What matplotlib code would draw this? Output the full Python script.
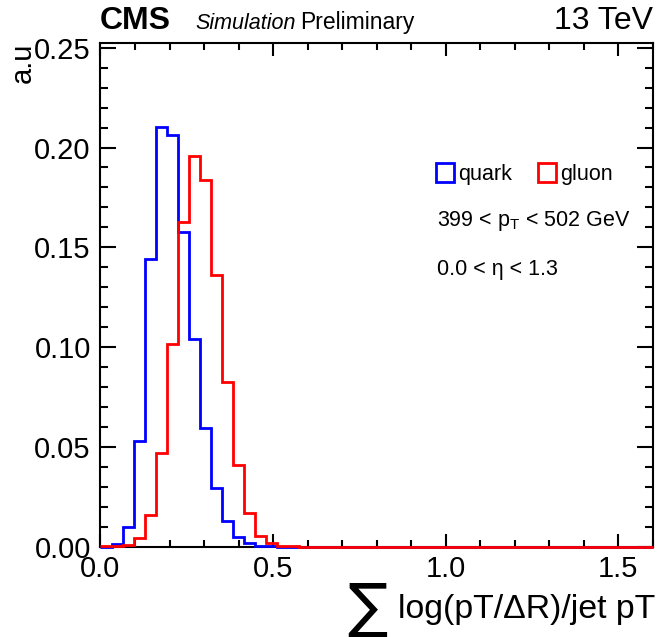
import numpy as np
import matplotlib
matplotlib.use("Agg")
import matplotlib.pyplot as plt
from matplotlib.patches import Patch
from matplotlib.ticker import MultipleLocator, FormatStrFormatter

plt.rcParams['font.family'] = ['Liberation Sans', 'DejaVu Sans']
plt.rcParams['mathtext.fontset'] = 'custom'
plt.rcParams['mathtext.rm'] = 'Liberation Sans'
plt.rcParams['mathtext.it'] = 'Liberation Sans:italic'

# 50 bins between 0 and 1.6
x_lo, x_hi, n_bins = 0.0, 1.6, 50
quark = [0.0, 0.0011, 0.0099, 0.0529, 0.1440, 0.2104, 0.2063, 0.1575, 0.1040, 0.0592,
         0.0292, 0.0129, 0.0049, 0.0016, 0.0004, 0.0001, 0.0, 0.0, 0.0, 0.0,
         0.0, 0.0, 0.0, 0.0, 0.0, 0.0, 0.0, 0.0, 0.0, 0.0,
         0.0, 0.0, 0.0, 0.0, 0.0, 0.0, 0.0, 0.0, 0.0, 0.0,
         0.0, 0.0, 0.0, 0.0, 0.0, 0.0, 0.0, 0.0, 0.0, 0.0]
gluon = [0.0002, 0.0003, 0.0008, 0.0041, 0.0158, 0.0467, 0.1013, 0.1628, 0.1959, 0.1837,
         0.1361, 0.0826, 0.0409, 0.0166, 0.0053, 0.0016, 0.0004, 0.0001, 0.0, 0.0,
         0.0, 0.0, 0.0, 0.0, 0.0, 0.0, 0.0, 0.0, 0.0, 0.0,
         0.0, 0.0, 0.0, 0.0, 0.0, 0.0, 0.0, 0.0, 0.0, 0.0,
         0.0, 0.0, 0.0, 0.0, 0.0, 0.0, 0.0, 0.0, 0.0, 0.0]
labels = ["quark", "gluon"]

edges = np.linspace(x_lo, x_hi, n_bins + 1)

fig = plt.figure(figsize=(6.59, 6.37), dpi=100)
ax = fig.add_axes([0.1525, 0.142, 0.838, 0.7905])

ax.stairs(quark, edges, color='#0000ff', lw=2.0, baseline=None, clip_on=False, zorder=3)
ax.stairs(gluon, edges, color='#ff0000', lw=2.0, baseline=None, clip_on=False, zorder=4)

ax.set_xlim(x_lo, x_hi)
ax.set_ylim(0, 0.2524)

ax.xaxis.set_major_locator(MultipleLocator(0.5))
ax.xaxis.set_minor_locator(MultipleLocator(0.1))
ax.yaxis.set_major_locator(MultipleLocator(0.05))
ax.yaxis.set_minor_locator(MultipleLocator(0.01))
ax.xaxis.set_major_formatter(FormatStrFormatter('%.1f'))
ax.yaxis.set_major_formatter(FormatStrFormatter('%.2f'))

for s in ax.spines.values():
    s.set_linewidth(1.5)
ax.tick_params(axis='both', which='both', direction='in', top=True, right=True,
               width=1.5, labelsize=21)
ax.tick_params(axis='x', which='major', length=9.5, pad=6)
ax.tick_params(axis='x', which='minor', length=4.8)
ax.tick_params(axis='y', which='major', length=11.5, pad=7)
ax.tick_params(axis='y', which='minor', length=5.8)

# header
fig.text(0.152, 0.954, "CMS", fontsize=23, fontweight='bold', ha='left', va='baseline')
fig.text(0.297, 0.954, "Simulation", fontsize=15.5, style='italic', ha='left', va='baseline')
fig.text(0.455, 0.954, "Preliminary", fontsize=16.5, ha='left', va='baseline')
fig.text(0.991, 0.955, "13 TeV", fontsize=23, ha='right', va='baseline')

# axis titles
fig.text(0.994, 0.030, "log(pT/\u0394R)/jet pT", fontsize=24.4, ha='right', va='baseline')
fig.text(0.557, 0.044, "\u2211", fontsize=43, ha='center', va='center',
         family=['DejaVu Sans'])
fig.text(0.034, 0.933, "a.u", fontsize=21, rotation=90, ha='center', va='top')

handles = [Patch(facecolor='none', edgecolor='#0000ff', lw=2.0),
           Patch(facecolor='none', edgecolor='#ff0000', lw=2.0)]
ax.legend(handles, labels, ncol=2, frameon=False, fontsize=15.5,
          loc='upper left', bbox_to_anchor=(0.607, 0.762),
          handlelength=0.84, handleheight=1.0, handletextpad=0.19,
          columnspacing=1.2, borderpad=0, borderaxespad=0)

ax.text(0.609, 0.636, "399 < p$_{\\mathregular{T}}$ < 502 GeV", transform=ax.transAxes,
        fontsize=15.5, ha='left', va='baseline')
ax.text(0.609, 0.539, "0.0 < \u03b7 < 1.3", transform=ax.transAxes,
        fontsize=15.5, ha='left', va='baseline')

fig.savefig("out.png", dpi=100)
